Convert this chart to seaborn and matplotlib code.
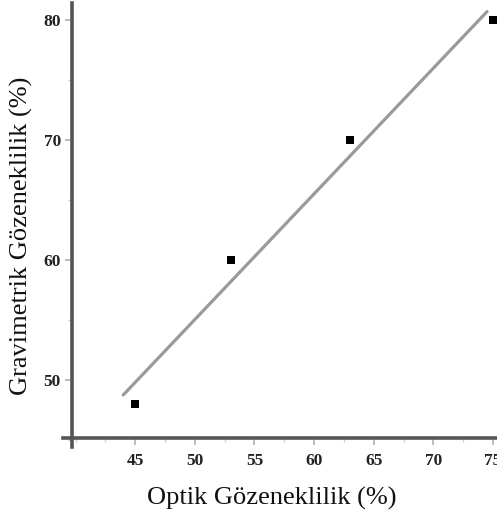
import numpy as np
import pandas as pd
import matplotlib
matplotlib.use("Agg")
import matplotlib.pyplot as plt
import seaborn as sns
from matplotlib.ticker import MultipleLocator

# Measured porosity values
optik = [45, 53, 63, 75]
gravimetrik = [48, 60, 70, 80]
x_ticks = [45, 50, 55, 60, 65, 70, 75]
y_ticks = [50, 60, 70, 80]

df = pd.DataFrame({"optik": optik, "gravimetrik": gravimetrik})

# Least-squares fit line
slope, intercept = np.polyfit(df["optik"], df["gravimetrik"], 1)
fit_x = np.array([44.0, 74.5])
fit = pd.DataFrame({"x": fit_x, "y": slope * fit_x + intercept})

sns.set_style("white")
plt.rcParams["font.family"] = ["Liberation Serif", "DejaVu Serif"]

W, H = 497, 520
fig = plt.figure(figsize=(W / 100, H / 100), dpi=100)
ax = fig.add_axes([63 / W, (H - 447) / H, 434 / W, 444 / H])

sns.lineplot(data=fit, x="x", y="y", ax=ax, color="#9a9a9a", linewidth=2.3)
sns.scatterplot(data=df, x="optik", y="gravimetrik", ax=ax, marker="s",
                s=38, color="black", edgecolor="black", linewidth=0, zorder=5)

ax.set_xlim(38.95, 75.33)
ax.set_ylim(44.45, 81.45)

for side in ["top", "right"]:
    ax.spines[side].set_visible(False)
ax.spines["left"].set_position(("data", 39.7))
ax.spines["bottom"].set_position(("data", 45.2))
for side in ["left", "bottom"]:
    ax.spines[side].set_color("#555555")
    ax.spines[side].set_linewidth(2.6)

ax.set_xticks(x_ticks)
ax.set_yticks(y_ticks)
ax.xaxis.set_minor_locator(MultipleLocator(2.5))
ax.yaxis.set_minor_locator(MultipleLocator(5))
ax.tick_params(which="major", direction="out", length=5, width=1.2,
               color="#b0b0b0", labelsize=12.5, pad=3)
ax.tick_params(which="minor", direction="out", length=3, width=1.0,
               color="#d0d0d0")
ax.tick_params(axis="x", which="both", bottom=True, pad=6)
ax.tick_params(axis="y", which="both", left=True)
for lab in ax.get_xticklabels() + ax.get_yticklabels():
    lab.set_fontweight("bold")
    lab.set_color("#222222")

ax.set_xlabel("")
ax.set_ylabel("")
fig.text(272 / W, 1 - 498 / H, "Optik Gözeneklilik (%)", ha="center",
         va="center", fontsize=19, color="#111111")
fig.text(21 / W, 1 - 236 / H, "Gravimetrik Gözeneklilik (%)", ha="center",
         va="center", rotation=90, fontsize=19, color="#111111")

fig.savefig("out.png", dpi=100)
